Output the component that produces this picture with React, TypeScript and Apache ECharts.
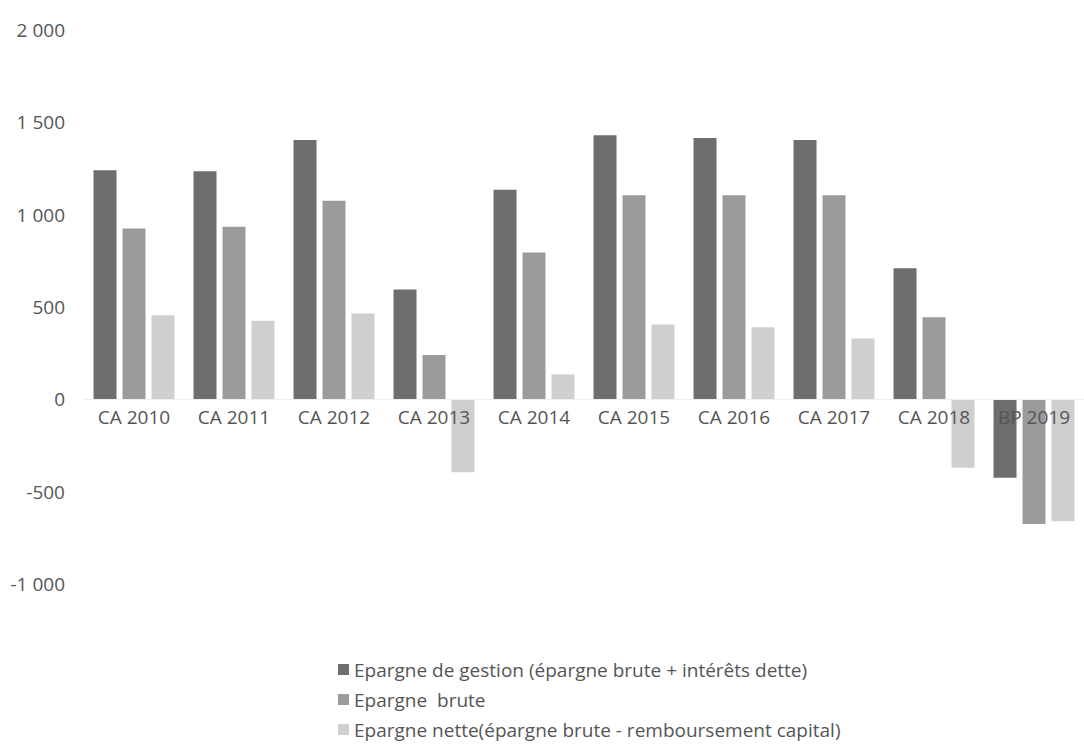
import React, { useEffect, useRef } from "react";
import * as echarts from "echarts";

const categories = ["CA 2010", "CA 2011", "CA 2012", "CA 2013", "CA 2014", "CA 2015", "CA 2016", "CA 2017", "CA 2018", "BP 2019"];
const epargneGestion = [1240, 1235, 1405, 595, 1135, 1430, 1415, 1405, 710, -425];
const epargneBrute = [925, 935, 1075, 240, 795, 1105, 1105, 1105, 445, -675];
const epargneNette = [455, 425, 465, -395, 135, 405, 390, 330, -370, -660];
const seriesNames = [
  "Epargne de gestion (épargne brute + intérêts dette)",
  "Epargne  brute",
  "Epargne nette(épargne brute - remboursement capital)",
];
const colors = ["#6e6e6e", "#9b9b9b", "#cfcfcf"];

const FONT = "'Open Sans', sans-serif";
const GRID_TOP = 30;
const GRID_BOTTOM = 172;
const Y_MIN = -1000;
const Y_MAX = 2000;

function fmt(v: number): string {
  const s = Math.abs(v).toString().replace(/\B(?=(\d{3})+(?!\d))/g, " ");
  return (v < 0 ? "-" : "") + s;
}

export default function App() {
  const ref = useRef<HTMLDivElement>(null);
  useEffect(() => {
    if (!ref.current) return;
    const chart = echarts.init(ref.current, null, { renderer: "svg" });
    const data = [epargneGestion, epargneBrute, epargneNette];
    const gridH = 756 - GRID_TOP - GRID_BOTTOM;
    const zeroOffset = -(gridH * (0 - Y_MIN)) / (Y_MAX - Y_MIN);
    chart.setOption({
      animation: false,
      backgroundColor: "#ffffff",
      textStyle: { fontFamily: FONT },
      grid: { left: 84, right: -10, top: GRID_TOP, bottom: GRID_BOTTOM },
      xAxis: {
        type: "category",
        data: categories,
        position: "bottom",
        offset: zeroOffset,
        z: 10,
        axisLine: { show: true, onZero: false, lineStyle: { color: "#efefef" } },
        axisTick: { show: false },
        axisLabel: { color: "#555555", fontSize: 19, fontFamily: FONT, margin: 8, interval: 0 },
        splitLine: { show: false },
      },
      yAxis: {
        type: "value",
        min: Y_MIN,
        max: Y_MAX,
        interval: 500,
        axisLine: { show: false },
        axisTick: { show: false },
        splitLine: { show: false },
        axisLabel: {
          color: "#555555",
          fontSize: 19,
          fontFamily: FONT,
          margin: 19,
          formatter: (v: number) => fmt(v),
        },
      },
      legend: {
        orient: "vertical",
        left: 333,
        top: 655,
        icon: "rect",
        itemWidth: 11,
        itemHeight: 11,
        itemGap: 11,
        textStyle: { color: "#555555", fontSize: 19, fontFamily: FONT },
        data: seriesNames,
      },
      series: seriesNames.map((name, i) => ({
        name,
        type: "bar",
        data: data[i],
        barWidth: 23,
        barGap: "26%",
        itemStyle: { color: colors[i] },
      })),
    });
    return () => chart.dispose();
  }, []);
  return (
    <div
      ref={ref}
      style={{ position: "absolute", left: 0, top: 0, width: 1084, height: 756 }}
    />
  );
}
